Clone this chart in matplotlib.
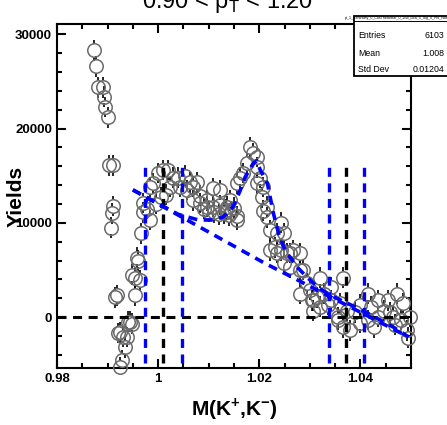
"""Invariant mass spectrum of K+K- pairs with fit and signal/side-band windows."""

import matplotlib

matplotlib.use("Agg")
import matplotlib.pyplot as plt
from matplotlib.patches import Rectangle
from matplotlib.lines import Line2D
from matplotlib.ticker import MultipleLocator, FixedLocator, FuncFormatter

plt.rcParams["font.family"] = ["Liberation Sans", "DejaVu Sans"]
plt.rcParams["mathtext.fontset"] = "custom"
plt.rcParams["mathtext.rm"] = "Liberation Sans"
plt.rcParams["mathtext.bf"] = "Liberation Sans:bold"
plt.rcParams["lines.scale_dashes"] = False

mass = [
	0.9874, 0.9878, 0.9882, 0.9890, 0.9892, 0.9894, 0.9900, 0.9903, 0.9911, 0.9911, 0.9909, 0.9907,
	0.9915, 0.9919, 0.9921, 0.9925, 0.9925, 0.9929, 0.9931, 0.9935, 0.9939, 0.9941, 0.9945, 0.9949,
	0.9949, 0.9954, 0.9954, 0.9958, 0.9960, 0.9964, 0.9966,
	0.9970, 0.9970, 0.9977, 0.9984, 0.9984, 0.9990, 0.9995, 1.0000, 1.0005, 1.0010, 1.0015, 1.0020,
	1.0024, 1.0030, 1.0040, 1.0044, 1.0054, 1.0057, 1.0063, 1.0069, 1.0069, 1.0077, 1.0083, 1.0083,
	1.0090, 1.0097, 1.0097, 1.0100, 1.0109, 1.0109, 1.0110, 1.0120, 1.0123, 1.0123, 1.0130, 1.0135,
	1.0137, 1.0140, 1.0143, 1.0145, 1.0150, 1.0155, 1.0156,
	1.0156, 1.0162, 1.0168, 1.0176, 1.0182, 1.0188, 1.0196, 1.0196, 1.0196, 1.0202, 1.0206, 1.0208,
	1.0208, 1.0216, 1.0216, 1.0222, 1.0222, 1.0232, 1.0236, 1.0236, 1.0242, 1.0242, 1.0248, 1.0248,
	1.0255, 1.0261, 1.0261, 1.0267, 1.0281, 1.0281, 1.0281, 1.0287, 1.0295, 1.0301, 1.0305, 1.0307,
	1.0307, 1.0315, 1.0321, 1.0321, 1.0327, 1.0335, 1.0341, 1.0341, 1.0355, 1.0355, 1.0360, 1.0366,
	1.0366, 1.0374, 1.0380, 1.0390, 1.0400, 1.0400, 1.0414, 1.0414, 1.0420, 1.0426, 1.0434, 1.0434,
	1.0446, 1.0454, 1.0459, 1.0465, 1.0469, 1.0473, 1.0480, 1.0485, 1.0493, 1.0495, 1.0499,
]
yields = [
	28300, 26600, 24400, 24400, 23400, 22300, 21200, 16100, 16100, 11800, 11000, 9500,
	2100, 2300, -1700, -1600, -5300, -4600, -2100, -3200, -2100, -500, -500, -700,
	4500, 2300, 4200, 6300, 6000, 3900, 8900,
	12100, 11100, 11500, 10300, 13800, 14200, 12000, 15300, 12700, 15600, 13000, 15600,
	13800, 14800, 14800, 13800, 15000, 13500, 14300, 13800, 12400, 14300, 12900, 12100,
	11500, 12400, 11700, 11200, 13700, 11700, 11100, 10900, 13500, 11900, 11000, 11400,
	11700, 10800, 12400, 11200, 11600, 10700, 10300,
	14200, 14800, 15300, 16300, 18000, 17400, 17000, 15900, 14200, 14800, 12700, 13800,
	11300, 11700, 10600, 9200, 7100, 7400, 8900, 6800, 7100, 10000, 8900, 5700,
	6800, 5300, 6800, 7100, 6800, 5000, 2500, 5000, 3600, 2900, 1800, 1800,
	700, 2100, 4200, 1100, 2500, 1300, 3200, 1800, -300, 0, 1500, 4200,
	-1100, 700, -1400, 500, -600, 1300, -300, 2500, 1100, -1100, 0, 1800,
	700, 1800, 500, 0, -800, 2500, -300, 1500, -1400, -2200, 0,
]
yield_err = 1100

# fit (signal + background) and background only
fit_mass = [
	0.9950, 1.0000, 1.0040, 1.0080, 1.0105, 1.0128, 1.0148, 1.0162, 1.0172, 1.0188, 1.0195,
	1.0202, 1.0216, 1.0228, 1.0240, 1.0252, 1.0275, 1.0295, 1.0320, 1.0345, 1.0374, 1.0414,
	1.0465, 1.0495,
]
fit_yield = [
	13500, 12050, 10900, 10300, 10300, 10600, 11700, 13400, 14850, 16300, 16600,
	15600, 14200, 11000, 8500, 7000, 5300, 4200, 3000, 2200, 1480, 420,
	-1060, -2100,
]
bg_mass = [0.9950, 1.0208, 1.0495]
bg_yield = [13500, 5800, -2100]

# signal and side-band windows
peak_window = [0.9974, 1.0010, 1.0048]
side_window = [1.0337, 1.0372, 1.0408]
window_colors = ["#0000ff", "black", "#0000ff"]
window_low, window_high = -4900, 16300

stats_labels = ["Entries", "Mean", "Std Dev"]
stats_values = ["6103", "1.008", "0.01204"]
hist_name = "pt_1_Centrality_0_CosThetaStar_0_2nd_Dca_0_Sig_0_Phi_Norm"

MS = 9.7
DASH = (0, (6.5, 4.7))


def main() -> None:
	fig = plt.figure(figsize=(4.47, 4.25), dpi=100)
	ax = fig.add_axes([57 / 447, 1 - 368 / 425, 354 / 447, 344 / 425])
	ax.set_xlim(0.98, 1.05)
	ax.set_ylim(-5400, 31100)

	# error bars drawn outside of the marker like ROOT does
	y0 = ax.transData.transform((0, 0))[1]
	y1 = ax.transData.transform((0, 1))[1]
	r = (MS / 2 * 100 / 72) / (y1 - y0)
	ax.vlines(mass, [y + r for y in yields], [y + yield_err for y in yields],
		color="black", lw=1.2, zorder=2)
	ax.vlines(mass, [y - yield_err for y in yields], [y - r for y in yields],
		color="black", lw=1.2, zorder=2)
	ax.plot(mass, yields, "o", ms=MS, mfc="none", mec="#6b6b6b", mew=1.1,
		zorder=3, clip_on=False)

	ax.axhline(0, color="black", lw=2.2, ls=DASH, zorder=4)
	for m, c in zip(peak_window + side_window, window_colors * 2):
		ax.plot([m, m], [window_low, window_high], color=c, lw=2.4, ls=DASH, zorder=4)
	ax.plot(bg_mass, bg_yield, color="#0000ff", lw=2.6, ls=DASH, zorder=5)
	ax.plot(fit_mass, fit_yield, color="#0000ff", lw=2.6, ls=DASH, zorder=5)

	ax.xaxis.set_major_locator(FixedLocator([0.98, 1.0, 1.02, 1.04]))
	ax.xaxis.set_minor_locator(MultipleLocator(0.005))
	ax.xaxis.set_major_formatter(FuncFormatter(lambda v, _: f"{v:g}"))
	ax.yaxis.set_major_locator(MultipleLocator(10000))
	ax.yaxis.set_minor_locator(MultipleLocator(2000))
	ax.tick_params(which="both", direction="in", top=True, right=True, width=1.5,
		labelsize=9.5, pad=3.6)
	ax.tick_params(which="major", length=6.5)
	ax.tick_params(which="minor", length=3.6)
	for lab in ax.get_xticklabels() + ax.get_yticklabels():
		lab.set_fontweight("bold")
	for s in ax.spines.values():
		s.set_linewidth(1.5)

	ax.set_xlabel(r"M(K$^{\mathbf{+}}$,K$^{\mathbf{-}}$)", fontsize=15,
		fontweight="bold", labelpad=8)
	ax.set_ylabel("Yields", fontsize=15, fontweight="bold")
	ax.yaxis.set_label_coords(-0.088, 0.5)

	fig.text(0.51, 1 - 8 / 425, r"0.90 < p$_{\mathrm{T}}$ < 1.20", fontsize=17,
		ha="center", va="baseline")

	# ROOT statistics box
	W, H = 447, 425
	box = Rectangle((354 / W, 1 - 76 / H), 100 / W, 60 / H, transform=fig.transFigure,
		facecolor="white", edgecolor="black", lw=1.3, zorder=10)
	fig.patches.append(box)
	fig.add_artist(Line2D([354 / W, 1], [1 - 21 / H] * 2, color="black", lw=0.7, zorder=11))
	fig.text(398 / W, 1 - 18.5 / H, hist_name, fontsize=2.6, ha="center", va="center", zorder=11)
	for i, (lab, val) in enumerate(zip(stats_labels, stats_values)):
		yy = 1 - (36 + 17 * i) / H
		fig.text(358 / W, yy, lab, fontsize=6.3, ha="left", va="center", zorder=11)
		fig.text(444 / W, yy, val, fontsize=6.3, ha="right", va="center", zorder=11)

	fig.savefig("out.png", dpi=100)


if __name__ == "__main__":
	main()
